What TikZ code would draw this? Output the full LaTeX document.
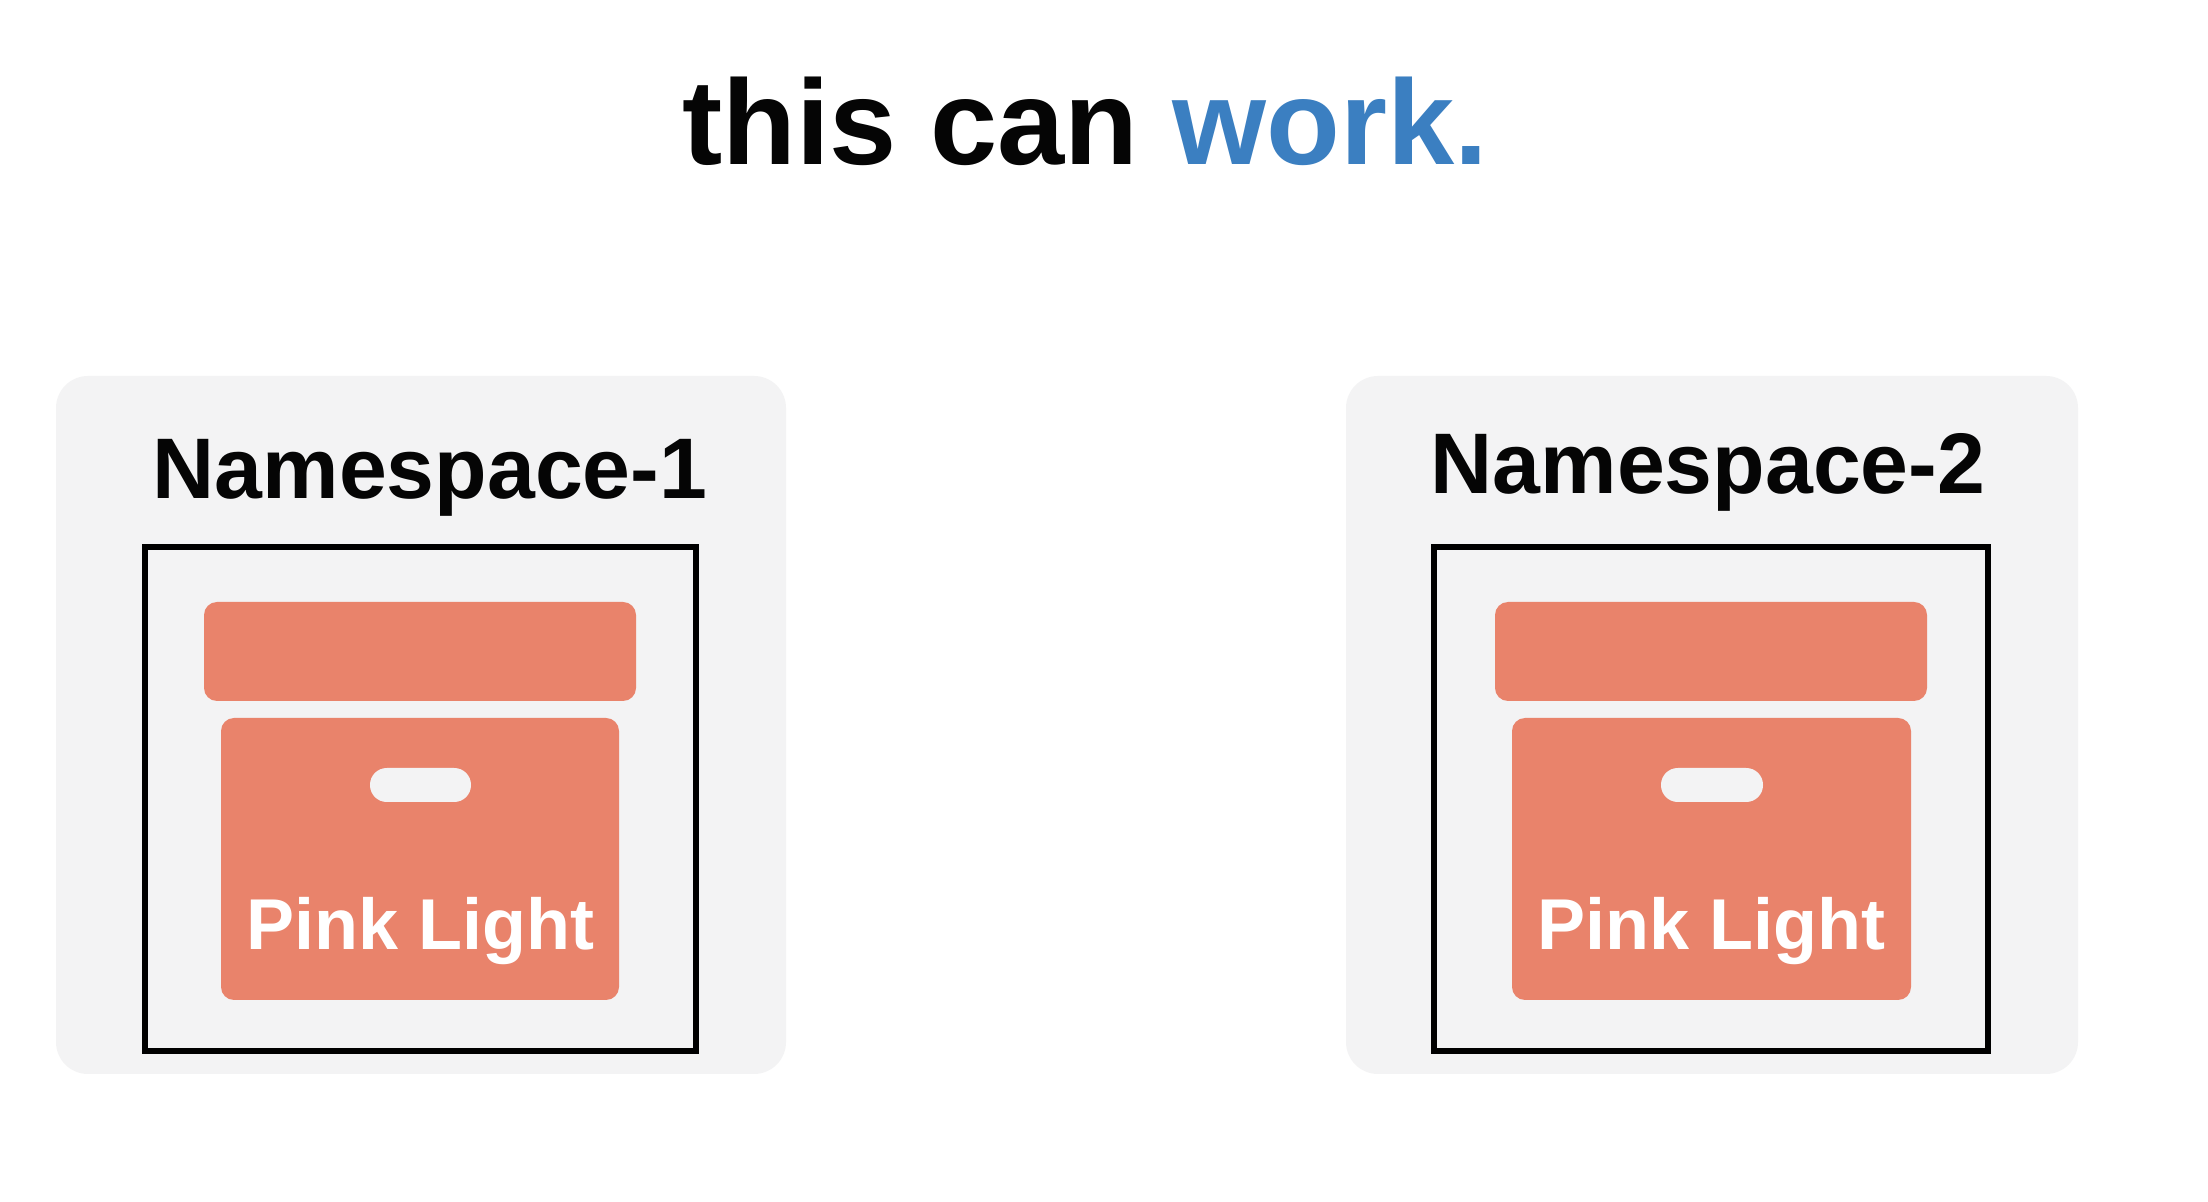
\documentclass[tikz,border=0pt]{standalone}
\usepackage{fontspec}
\setmainfont{Liberation Sans}
\definecolor{panelgray}{HTML}{F3F3F4}
\definecolor{boxsalmon}{HTML}{E9836B}
\definecolor{titleblue}{HTML}{3B7FC1}
\definecolor{inkblack}{HTML}{050505}
\tikzset{
  x=0.5pt,y=-0.5pt,
  panel/.style={fill=panelgray,draw=none,rounded corners=16pt},
  frame/.style={draw=black,line width=3pt,fill=none},
  salmon/.style={fill=boxsalmon,draw=none,rounded corners=6.5pt},
  handle/.style={fill=panelgray,draw=none,rounded corners=8.4pt},
  nstext/.style={anchor=base,inner sep=0pt,font=\bfseries\fontsize{43}{50}\selectfont,text=inkblack},
  boxtext/.style={anchor=base,inner sep=0pt,font=\bfseries\fontsize{36}{42}\selectfont,text=white},
  titletext/.style={anchor=base,inner sep=0pt,font=\bfseries\fontsize{60.4}{70}\selectfont,text=inkblack}
}
\begin{document}
\begin{tikzpicture}
\useasboundingbox (0,0) rectangle (2208,1202);
\fill[white] (0,0) rectangle (2208,1202);
\node[titletext] (title) at (1085,165) {this can \textcolor{titleblue}{work.}};
% panel 1
\path[panel] (56,376) rectangle (786,1074);
\node[nstext] (ns1) at (430,499) {Namespace-1};
\path[salmon] (204,602) rectangle (636,701);
\path[salmon] (221,718) rectangle (619,1000);
\path[handle] (370,768) rectangle (471,802);
\node[boxtext] (pl1) at (420,950) {Pink Light};
\draw[frame] (145,547) rectangle (696,1051);
% panel 2
\path[panel] (1346,376) rectangle (2078,1074);
\node[nstext] (ns2) at (1708,494) {Namespace-2};
\path[salmon] (1495,602) rectangle (1927,701);
\path[salmon] (1512,718) rectangle (1911,1000);
\path[handle] (1661,768) rectangle (1763,802);
\node[boxtext] (pl2) at (1711,950) {Pink Light};
\draw[frame] (1434,547) rectangle (1988,1051);
\end{tikzpicture}
\end{document}
